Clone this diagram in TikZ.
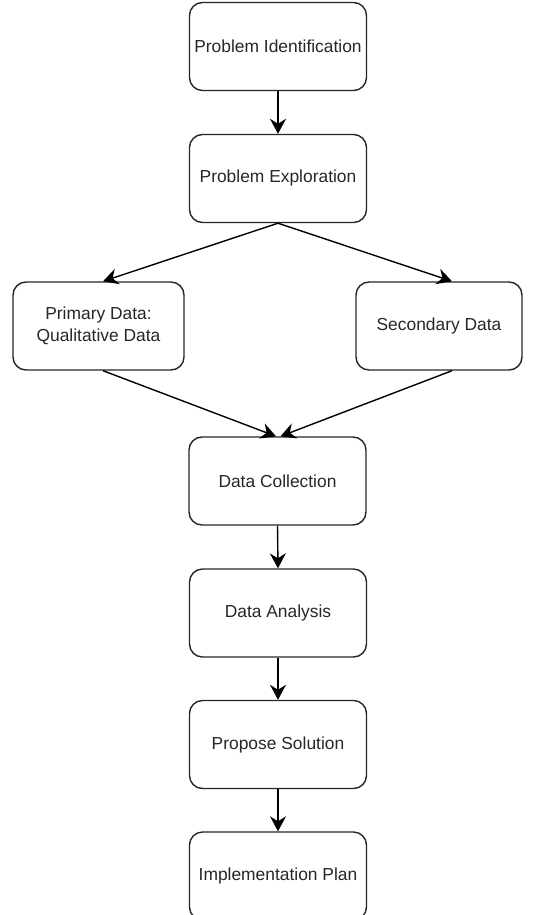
\documentclass[tikz,border=0pt]{standalone}
\usepackage{fontspec}
\setmainfont{Liberation Sans}
\usetikzlibrary{arrows.meta}

\begin{document}
\begin{tikzpicture}[x=1pt, y=-1pt, line width=1.4pt,
    stage/.style={draw=black!85, rounded corners=13pt, minimum width=177pt, minimum height=88pt,
      inner sep=2pt, align=center, text=black!85, font=\fontsize{17.4}{22}\selectfont},
    flow/.style={-{Stealth[length=15pt, width=16pt, inset=5pt]}}]
  \useasboundingbox (0,0) rectangle (538,915);
  % main column
  \node[stage] (ident) at (278,46.5) {Problem Identification};
  \node[stage] (explore) at (278,178.5) {Problem Exploration};
  % the two data sources
  \node[stage, minimum width=171pt] (primary) at (98.5,326) {Primary Data:\\Qualitative Data};
  \node[stage, minimum width=166pt] (secondary) at (439,326) {Secondary Data};
  % back to one column (plan runs off the bottom)
  \node[stage] (collect) at (277.5,481) {Data Collection};
  \node[stage] (analyse) at (278,613) {Data Analysis};
  \node[stage] (propose) at (278,744.5) {Propose Solution};
  \node[stage] (plan) at (278,876) {Implementation Plan};

  \draw[flow] (ident.south) -- (explore.north);
  \draw[flow] (explore.south) -- ([xshift=4.5pt]primary.north);
  \draw[flow] (explore.south) -- ([xshift=13pt]secondary.north);
  \draw[flow] ([xshift=4.5pt]primary.south) -- ([xshift=-1.5pt]collect.north);
  \draw[flow] ([xshift=13pt]secondary.south) -- ([xshift=3pt]collect.north);
  \foreach \a/\b in {collect/analyse, analyse/propose, propose/plan}
    \draw[flow] (\a.south) -- (\b.north);
\end{tikzpicture}
\end{document}
